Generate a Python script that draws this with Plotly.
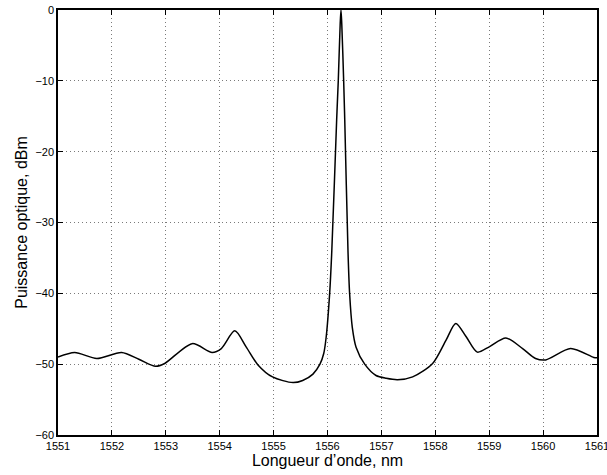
import plotly.graph_objects as go

wavelength_nm = [1551.0, 1551.31, 1551.72, 1552.18, 1552.50, 1552.81, 1552.98, 1553.49, 1553.86,
                 1554.03, 1554.28, 1554.49, 1554.71, 1554.98, 1555.36, 1555.54, 1555.73, 1555.86,
                 1555.93, 1555.975, 1556.04, 1556.08, 1556.17, 1556.20, 1556.235, 1556.25, 1556.265,
                 1556.30, 1556.32, 1556.38, 1556.41, 1556.46, 1556.53, 1556.69, 1556.90, 1557.09,
                 1557.30, 1557.58, 1557.95, 1558.20,
                 1558.38, 1558.57, 1558.78, 1559.00, 1559.31, 1559.62, 1559.86, 1560.05, 1560.51,
                 1560.94, 1561.0]
power_dbm = [-49.0, -48.35, -49.2, -48.35, -49.3, -50.3, -49.9, -47.1, -48.35,
             -47.8, -45.3, -47.55, -50.1, -51.8, -52.6, -52.3, -51.4, -50.0,
             -48.5, -46.2, -40.0, -34.0, -15.5, -10.0, -2.0, 0.0, -2.0,
             -10.0, -15.5, -34.0, -40.0, -44.8, -47.6, -50.0, -51.6, -52.0,
             -52.2, -51.8, -49.9, -46.6,
             -44.25, -46.1, -48.3, -47.55, -46.3, -47.8, -49.2, -49.4, -47.8,
             -49.05, -49.1]

x_ticks = list(range(1551, 1562))
y_ticks = [-60, -50, -40, -30, -20, -10, 0]

fig = go.Figure()
fig.add_trace(go.Scatter(
    x=wavelength_nm, y=power_dbm, mode="lines",
    line=dict(color="black", width=1.5, shape="spline", smoothing=0.8),
    showlegend=False, hoverinfo="skip"))

font_family = "Liberation Sans, Arial, sans-serif"
axis_common = dict(
    showline=True, linecolor="black", linewidth=1.5, mirror="ticks",
    ticks="inside", ticklen=5, tickwidth=1, tickcolor="black",
    showgrid=True, gridcolor="#7a7a7a", gridwidth=1, griddash="1px,3px",
    zeroline=False, automargin=False, ticklabeloverflow="allow",
    tickfont=dict(family=font_family, size=11, color="black"),
)

fig.update_xaxes(range=[1551, 1561], tickvals=x_ticks, ticktext=[str(v) for v in x_ticks],
                 title=dict(text="Longueur d’onde, nm", standoff=4,
                            font=dict(family=font_family, size=16, color="black")),
                 **axis_common)
fig.update_yaxes(range=[-60, 0], tickvals=y_ticks,
                 title=dict(text="Puissance optique, dBm", standoff=4,
                            font=dict(family=font_family, size=16, color="black")),
                 **axis_common)

fig.update_layout(
    width=607, height=475,
    margin=dict(l=58, r=10, t=10, b=40),
    plot_bgcolor="white", paper_bgcolor="white",
)

fig.write_html("out.html")
